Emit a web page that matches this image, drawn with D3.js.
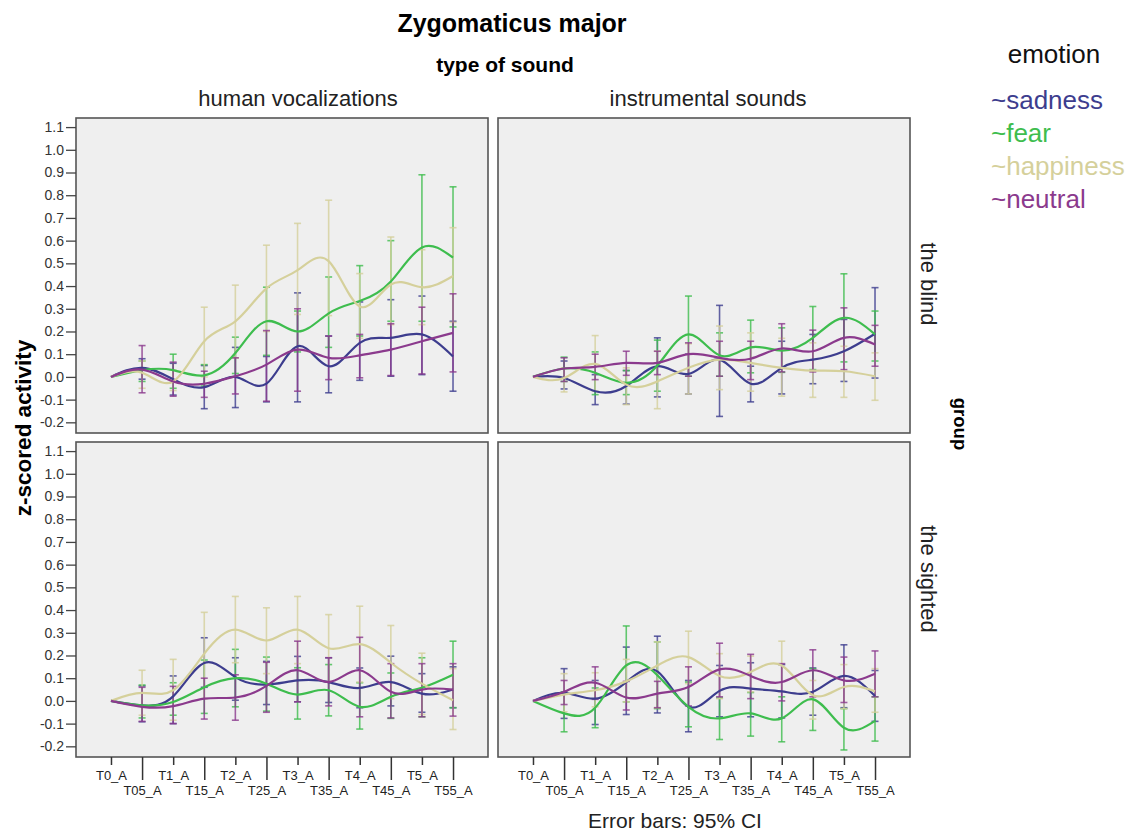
<!DOCTYPE html>
<html>
<head>
<meta charset="utf-8">
<script src="https://cdn.jsdelivr.net/npm/d3@7"></script>
<style>
  body { margin: 0; background: #fff; }
  text { font-family: "Liberation Sans", Arial, sans-serif; }
</style>
</head>
<body>
<svg id="chart" width="1135" height="835"></svg>
<script>
// time points (x categories) and y ticks
var times = ["T0_A", "T05_A", "T1_A", "T15_A", "T2_A", "T25_A", "T3_A", "T35_A", "T4_A", "T45_A", "T5_A", "T55_A"];
var yTicks = [-0.2, -0.1, 0, 0.1, 0.2, 0.3, 0.4, 0.5, 0.6, 0.7, 0.8, 0.9, 1.0, 1.1];
var emotions = ["sadness", "fear", "happiness", "neutral"];
var emotionColors = ["#3d3d8e", "#3ebd4e", "#d5d09b", "#8b3a8d"];

// each entry: [mean, CI low, CI high]
// the blind / human vocalizations
var blindHumanSadness = [[0,0,0],[0.04,-0.01,0.08],[-0.01,-0.08,0.06],[-0.045,-0.14,0.05],[0.0,-0.135,0.13],[-0.03,-0.11,0.09],[0.135,-0.11,0.37],[0.047,-0.07,0.18],[0.15,-0.015,0.33],[0.172,0.003,0.34],[0.187,0.01,0.356],[0.09,-0.063,0.245]];
var blindHumanFear = [[0,0,0],[0.03,-0.02,0.07],[0.03,-0.05,0.10],[0.007,-0.04,0.054],[0.105,0.015,0.175],[0.245,0.095,0.395],[0.2,0.11,0.29],[0.28,0.13,0.44],[0.334,0.18,0.49],[0.42,0.245,0.6],[0.57,0.245,0.89],[0.525,0.22,0.837]];
var blindHumanHappiness = [[0,0,0],[0.018,-0.05,0.07],[-0.02,-0.06,0.03],[0.157,0.0,0.307],[0.245,0.084,0.404],[0.39,0.2,0.58],[0.47,0.275,0.676],[0.51,0.27,0.778],[0.31,0.17,0.455],[0.407,0.23,0.616],[0.395,0.23,0.56],[0.444,0.24,0.657]];
var blindHumanNeutral = [[0,0,0],[0.032,-0.07,0.138],[-0.02,-0.085,0.065],[-0.03,-0.09,0.025],[0.003,-0.075,0.084],[0.054,-0.107,0.204],[0.12,-0.063,0.3],[0.084,-0.012,0.18],[0.095,-0.004,0.187],[0.12,0.006,0.234],[0.157,0.013,0.307],[0.194,0.022,0.366]];

// the blind / instrumental sounds
var blindInstrSadness = [[0,0,0],[-0.005,-0.053,0.07],[-0.063,-0.122,0.01],[-0.04,-0.12,0.028],[0.047,-0.088,0.172],[0.013,-0.075,0.1],[0.076,-0.174,0.315],[-0.03,-0.11,0.047],[0.04,-0.075,0.157],[0.076,-0.03,0.187],[0.113,-0.02,0.253],[0.19,-0.005,0.393]];
var blindInstrFear = [[0,0,0],[0.037,-0.02,0.087],[0.018,-0.078,0.11],[-0.026,-0.078,0.028],[0.05,-0.063,0.162],[0.187,0.003,0.356],[0.095,0.003,0.194],[0.13,0.018,0.25],[0.116,0.02,0.216],[0.172,0.032,0.31],[0.26,0.066,0.454],[0.187,0.07,0.29]];
var blindInstrHappiness = [[0,0,0],[-0.005,-0.066,0.04],[0.057,-0.063,0.182],[-0.034,-0.122,0.04],[-0.02,-0.14,0.113],[0.04,-0.075,0.146],[0.076,-0.056,0.224],[0.062,-0.063,0.194],[0.04,-0.085,0.17],[0.028,-0.09,0.15],[0.025,-0.09,0.135],[0.003,-0.103,0.106]];
var blindInstrNeutral = [[0,0,0],[0.037,-0.02,0.084],[0.044,-0.012,0.1],[0.062,0.007,0.113],[0.062,0.01,0.113],[0.1,0.003,0.15],[0.084,0.003,0.157],[0.08,-0.012,0.157],[0.125,0.022,0.234],[0.113,0.022,0.206],[0.172,0.032,0.304],[0.143,0.047,0.227]];

// the sighted / human vocalizations
var sightedHumanSadness = [[0,0,0],[-0.02,-0.092,0.066],[0.02,-0.1,0.11],[0.167,0.06,0.278],[0.105,0.003,0.19],[0.072,-0.016,0.174],[0.09,-0.004,0.196],[0.083,-0.007,0.19],[0.057,-0.03,0.145],[0.083,-0.022,0.197],[0.032,-0.05,0.12],[0.05,-0.03,0.15]];
var sightedHumanFear = [[0,0,0],[-0.02,-0.075,0.07],[-0.005,-0.063,0.08],[0.06,-0.055,0.18],[0.1,-0.026,0.227],[0.076,-0.045,0.193],[0.028,-0.08,0.146],[0.047,-0.066,0.16],[-0.026,-0.124,0.08],[0.018,-0.077,0.123],[0.058,-0.07,0.19],[0.115,-0.03,0.263]];
var sightedHumanHappiness = [[0,0,0],[0.035,-0.063,0.135],[0.047,-0.085,0.183],[0.208,0.01,0.39],[0.314,0.168,0.46],[0.266,0.12,0.41],[0.314,0.164,0.46],[0.232,0.086,0.38],[0.25,0.083,0.417],[0.168,0.01,0.332],[0.076,-0.06,0.21],[0.003,-0.126,0.142]];
var sightedHumanNeutral = [[0,0,0],[-0.026,-0.09,0.06],[-0.023,-0.1,0.064],[0.01,-0.08,0.1],[0.015,-0.085,0.115],[0.066,-0.05,0.17],[0.135,-0.004,0.263],[0.083,-0.022,0.19],[0.135,-0.07,0.28],[0.04,-0.075,0.164],[0.05,-0.07,0.164],[0.05,-0.067,0.164]];

// the sighted / instrumental sounds
var sightedInstrSadness = [[0,0,0],[0.035,-0.077,0.142],[0.01,-0.104,0.09],[0.083,-0.06,0.237],[0.13,-0.053,0.285],[-0.026,-0.136,0.09],[0.044,-0.07,0.156],[0.054,-0.07,0.168],[0.042,-0.075,0.16],[0.04,-0.063,0.145],[0.11,-0.03,0.247],[0.022,-0.09,0.134]];
var sightedInstrFear = [[0,0,0],[-0.055,-0.136,0.04],[-0.03,-0.118,0.057],[0.156,-0.004,0.33],[0.113,-0.034,0.26],[-0.026,-0.114,0.083],[-0.077,-0.17,0.013],[-0.055,-0.155,0.037],[-0.077,-0.18,0.018],[0.007,-0.13,0.142],[-0.118,-0.216,-0.034],[-0.088,-0.177,0.018]];
var sightedInstrHappiness = [[0,0,0],[0.028,-0.048,0.12],[0.047,-0.026,0.124],[0.086,-0.004,0.183],[0.156,-0.03,0.26],[0.193,0.076,0.307],[0.11,0.01,0.208],[0.127,0.04,0.197],[0.156,0.04,0.263],[0.025,-0.08,0.09],[0.061,-0.034,0.16],[0.042,-0.05,0.142]];
var sightedInstrNeutral = [[0,0,0],[0.04,-0.016,0.09],[0.08,0.007,0.15],[0.015,-0.04,0.086],[0.032,-0.03,0.086],[0.061,-0.022,0.15],[0.139,0.018,0.254],[0.11,0.01,0.205],[0.083,0.0,0.164],[0.135,0.018,0.225],[0.09,-0.007,0.193],[0.12,0.018,0.22]];

// layout
var cols = [{x0: 76, x1: 488, label: "human vocalizations", lx: 298},
            {x0: 498, x1: 910, label: "instrumental sounds", lx: 708}];
var rows = [{y0: 118, y1: 433, label: "the blind", ly: 284},
            {y0: 442, y1: 757, label: "the sighted", ly: 579}];
var panels = [
  {r: 0, c: 0, series: [blindHumanSadness, blindHumanFear, blindHumanHappiness, blindHumanNeutral]},
  {r: 0, c: 1, series: [blindInstrSadness, blindInstrFear, blindInstrHappiness, blindInstrNeutral]},
  {r: 1, c: 0, series: [sightedHumanSadness, sightedHumanFear, sightedHumanHappiness, sightedHumanNeutral]},
  {r: 1, c: 1, series: [sightedInstrSadness, sightedInstrFear, sightedInstrHappiness, sightedInstrNeutral]}
];

var svg = d3.select("#chart");

panels.forEach(function(p) {
  var col = cols[p.c], row = rows[p.r];
  var x = d3.scalePoint().domain(times).range([col.x0, col.x1]).padding(1.125);
  var y = d3.scaleLinear().domain([-0.247, 1.14]).range([row.y1, row.y0]);
  var g = svg.append("g");

  g.append("rect")
    .attr("x", col.x0).attr("y", row.y0)
    .attr("width", col.x1 - col.x0).attr("height", row.y1 - row.y0)
    .attr("fill", "#efefef");

  // error bars first, lines on top
  p.series.forEach(function(s, k) {
    var color = emotionColors[k];
    var bars = g.append("g").attr("stroke", color).attr("stroke-width", 1.6).attr("stroke-opacity", 0.8);
    s.forEach(function(d, i) {
      if (d[2] - d[1] <= 0) return;
      var cx = x(times[i]);
      bars.append("line").attr("x1", cx).attr("x2", cx).attr("y1", y(d[1])).attr("y2", y(d[2]));
      bars.append("line").attr("x1", cx - 3.5).attr("x2", cx + 3.5).attr("y1", y(d[1])).attr("y2", y(d[1]));
      bars.append("line").attr("x1", cx - 3.5).attr("x2", cx + 3.5).attr("y1", y(d[2])).attr("y2", y(d[2]));
    });
  });

  p.series.forEach(function(s, k) {
    var line = d3.line()
      .x(function(d, i) { return x(times[i]); })
      .y(function(d) { return y(d[0]); })
      .curve(d3.curveNatural);
    g.append("path").datum(s)
      .attr("d", line)
      .attr("fill", "none")
      .attr("stroke", emotionColors[k])
      .attr("stroke-width", 2.2);
  });

  g.append("rect")
    .attr("x", col.x0).attr("y", row.y0)
    .attr("width", col.x1 - col.x0).attr("height", row.y1 - row.y0)
    .attr("fill", "none").attr("stroke", "#555").attr("stroke-width", 1.6);

  // y axis only on the left column
  if (p.c === 0) {
    var ya = g.append("g").attr("transform", "translate(" + col.x0 + ",0)")
      .call(d3.axisLeft(y).tickValues(yTicks).tickSize(10).tickPadding(2)
        .tickFormat(function(d) { return d.toFixed(1); }));
    ya.select(".domain").remove();
    ya.selectAll("line").attr("stroke", "#444").attr("stroke-width", 1.3);
    ya.selectAll("text").attr("font-size", 14).attr("fill", "#333")
      .style("font-family", "'Liberation Sans', Arial, sans-serif");
  }

  // x axis only on the bottom row, labels staggered
  if (p.r === 1) {
    var xa = g.append("g").attr("transform", "translate(0," + row.y1 + ")")
      .call(d3.axisBottom(x).tickSize(8).tickPadding(3));
    xa.select(".domain").remove();
    xa.selectAll("line").attr("stroke", "#333").attr("stroke-width", 1.5);
    xa.selectAll("text").attr("font-size", 13).attr("fill", "#222")
      .style("font-family", "'Liberation Sans', Arial, sans-serif");
    xa.selectAll(".tick").each(function(d, i) {
      var t = d3.select(this);
      if (i % 2 === 1) {
        t.select("line").attr("y2", 23);
        t.select("text").attr("y", 29);
      } else {
        t.select("text").attr("y", 14);
      }
    });
  }
});

// titles and facet labels
svg.append("text").attr("x", 512).attr("y", 32).attr("text-anchor", "middle")
  .attr("font-size", 25).attr("font-weight", "bold").text("Zygomaticus major");
svg.append("text").attr("x", 505).attr("y", 72).attr("text-anchor", "middle")
  .attr("font-size", 21).attr("font-weight", "bold").text("type of sound");
cols.forEach(function(c) {
  svg.append("text").attr("x", c.lx).attr("y", 106).attr("text-anchor", "middle")
    .attr("font-size", 22).attr("fill", "#222").text(c.label);
});
rows.forEach(function(r) {
  svg.append("text").attr("transform", "translate(921," + r.ly + ") rotate(90)")
    .attr("text-anchor", "middle").attr("font-size", 22).attr("fill", "#222").text(r.label);
});
svg.append("text").attr("transform", "translate(954,424) rotate(90)")
  .attr("text-anchor", "middle").attr("font-size", 18.5).attr("font-weight", "bold").text("group");
svg.append("text").attr("transform", "translate(31,428) rotate(-90)")
  .attr("text-anchor", "middle").attr("font-size", 22.5).attr("font-weight", "bold").text("z-scored activity");
svg.append("text").attr("x", 675).attr("y", 828).attr("text-anchor", "middle")
  .attr("font-size", 21).attr("fill", "#222").text("Error bars: 95% CI");

// legend
svg.append("text").attr("x", 1054).attr("y", 63).attr("text-anchor", "middle")
  .attr("font-size", 26).attr("fill", "#111").text("emotion");
emotions.forEach(function(e, i) {
  svg.append("text").attr("x", 991).attr("y", 109 + i * 33)
    .attr("font-size", 26).attr("fill", emotionColors[i]).text("~" + e);
});
</script>
</body>
</html>
